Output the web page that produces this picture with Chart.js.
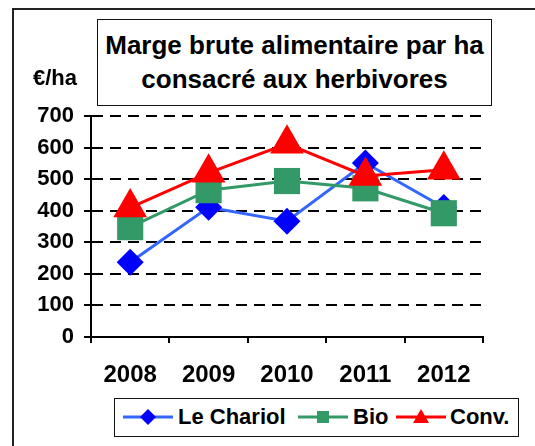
<!DOCTYPE html>
<html>
<head>
<meta charset="utf-8">
<script src="https://cdn.jsdelivr.net/npm/chart.js@4"></script>
<style>
  body { margin: 0; background: #fff; font-family: "Liberation Sans", Arial, sans-serif; }
  #cadre { position: relative; width: 535px; height: 446px; overflow: hidden; }
  #bord { position: absolute; left: 12px; top: 8px; width: 560px; height: 480px; border: 2px solid #222; box-sizing: border-box; }
  #graf { position: absolute; left: 0; top: 0; width: 535px; height: 446px; }
  #titre { position: absolute; left: 97px; top: 19px; width: 395px; height: 87px; box-sizing: border-box;
           border: 1.5px solid #111; background: #fff; text-align: center; font-weight: bold; font-size: 26px;
           line-height: 34px; padding-top: 8px; color: #000; }
  #unite { position: absolute; left: 33px; top: 65px; font-weight: bold; font-size: 22px; line-height: 26px; }
  #legende { position: absolute; left: 114px; top: 398px; width: 405px; height: 39px; box-sizing: border-box;
             border: 1.5px solid #111; background: #fff; font-weight: bold; font-size: 22px; }
  .item { position: absolute; top: 0; height: 36px; line-height: 36px; white-space: nowrap; }
  .item svg { position: absolute; top: 8px; left: 0; }
  .item span { position: absolute; top: 0; }
</style>
</head>
<body>
<div id="cadre">
  <div id="bord"></div>
  <canvas id="graf" width="535" height="446"></canvas>
  <div id="unite">€/ha</div>
  <div id="titre">Marge brute alimentaire par ha<br>consacré aux herbivores</div>
  <div id="legende"></div>
</div>
<script>
// Données (euros par ha)
const annees = ['2008', '2009', '2010', '2011', '2012'];
const leChariol = [237, 411, 367, 551, 410];
const bio = [348, 465, 494, 471, 392];
const conv = [410, 520, 612, 510, 530];
const graduations = [0, 100, 200, 300, 400, 500, 600, 700];

const series = [
    { nom: 'Le Chariol', data: leChariol, ligne: '#3366FF', point: '#0000FF', forme: 'rectRot', rayon: 13.5, ordre: 3 },
    { nom: 'Bio', data: bio, ligne: '#339966', point: '#339966', forme: 'rect', rayon: 18.5, ordre: 2 },
    { nom: 'Conv.', data: conv, ligne: '#FF0000', point: '#FF0000', forme: 'triangle', rayon: 19.5, ordre: 1 }
];

function init() {
    const ctx = document.getElementById('graf');
    new Chart(ctx, {
        type: 'line',
        data: {
            labels: annees,
            datasets: series.map(s => ({
                label: s.nom,
                data: s.data,
                borderColor: s.ligne,
                backgroundColor: s.point,
                borderWidth: 3,
                pointStyle: s.forme,
                pointRadius: s.rayon,
                pointBackgroundColor: s.point,
                pointBorderColor: s.point,
                pointBorderWidth: 0,
                tension: 0,
                order: s.ordre,
                clip: false
            }))
        },
        options: {
            responsive: false,
            animation: false,
            layout: { padding: { top: 116, right: 52, bottom: 0, left: 0 } },
            plugins: { legend: { display: false }, tooltip: { enabled: false } },
            scales: {
                x: {
                    offset: true,
                    grid: { offset: true, drawOnChartArea: false, tickLength: 6, tickColor: '#000', lineWidth: 2 },
                    border: { color: '#000', width: 2 },
                    ticks: { color: '#000', padding: 18, font: { family: 'Liberation Sans', size: 24, weight: 'bold' } },
                    afterFit: function (scale) { scale.height = 109; }
                },
                y: {
                    min: 0,
                    max: 700,
                    afterBuildTicks: function (scale) { scale.ticks = graduations.map(v => ({ value: v })); },
                    grid: {
                        color: c => (c.tick && c.tick.value === 0) ? 'rgba(0,0,0,0)' : '#000',
                        tickColor: '#000',
                        lineWidth: 2,
                        tickLength: 7
                    },
                    border: { color: '#000', width: 2, dash: [11, 7] },
                    ticks: { color: '#000', padding: 10, font: { family: 'Liberation Sans', size: 22, weight: 'bold' } },
                    afterFit: function (scale) { scale.width = 91; }
                }
            }
        }
    });
    dessinerLegende();
}

// Légende encadrée comme dans l'original
function dessinerLegende() {
    const pos = [{ l: 8, t: 63 }, { l: 183, t: 238 }, { l: 281, t: 335 }];
    const box = document.getElementById('legende');
    series.forEach((s, i) => {
        let marque = '';
        if (s.forme === 'rectRot') marque = '<polygon points="25,2 33,10 25,18 17,10" fill="' + s.point + '"/>';
        else if (s.forme === 'rect') marque = '<rect x="19" y="4" width="12" height="12" fill="' + s.point + '"/>';
        else marque = '<polygon points="25,2 33,16 17,16" fill="' + s.point + '"/>';
        const div = document.createElement('div');
        div.className = 'item';
        div.style.left = pos[i].l + 'px';
        div.innerHTML = '<svg width="50" height="20"><line x1="0" y1="10" x2="50" y2="10" stroke="' + s.ligne +
            '" stroke-width="3"/>' + marque + '</svg><span style="left:' + (pos[i].t - pos[i].l) + 'px">' + s.nom + '</span>';
        box.appendChild(div);
    });
}

init();
</script>
</body>
</html>
